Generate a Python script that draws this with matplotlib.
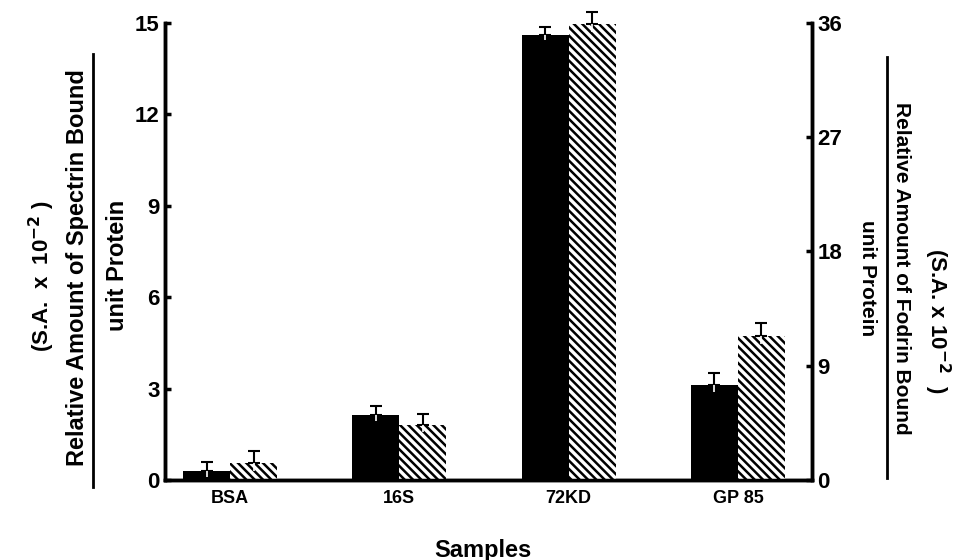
import numpy as np
import matplotlib
matplotlib.use('Agg')
import matplotlib.pyplot as plt
from matplotlib.lines import Line2D

plt.rcParams['font.family'] = ['Liberation Sans', 'DejaVu Sans']
plt.rcParams['font.weight'] = 'bold'
plt.rcParams['mathtext.default'] = 'bf'
plt.rcParams['hatch.linewidth'] = 1.8

# Daten
samples = ['BSA', '16S', '72KD', 'GP 85']
spectrin = [0.28, 2.13, 14.6, 3.12]        # linke Achse
spectrin_err = [0.32, 0.31, 0.28, 0.38]
fodrin = [1.32, 4.33, 35.9, 11.34]         # rechte Achse
fodrin_err = [0.96, 0.88, 0.95, 1.0]
left_ticks = [0, 3, 6, 9, 12, 15]
right_ticks = [0, 9, 18, 27, 36]

x = np.arange(len(samples))
w = 0.278

fig = plt.figure(figsize=(9.6, 5.6), dpi=100)
ax = fig.add_axes([0.1719, 0.1429, 0.674, 0.816])
ax2 = ax.twinx()

ax.bar(x - w / 2, spectrin, w, color='black', linewidth=0)
ax2.bar(x + w / 2, fodrin, w, color='white', edgecolor='black',
        linewidth=0, hatch='\\\\\\\\')

# Fehlerbalken: nach oben schwarz mit Kappe, nach unten weiss im Balken
ax.errorbar(x - w / 2, spectrin, yerr=[np.zeros(4), spectrin_err],
            fmt='none', ecolor='black', elinewidth=1.5, capsize=4,
            capthick=1.5, clip_on=False)
ax.vlines(x - w / 2, np.array(spectrin) - np.array(spectrin_err) * 0.6,
          spectrin, color='white', lw=1.2)
ax2.errorbar(x + w / 2, fodrin, yerr=[np.zeros(4), fodrin_err],
             fmt='none', ecolor='black', elinewidth=1.5, capsize=4,
             capthick=1.5, clip_on=False)
ax2.vlines(x + w / 2, np.array(fodrin) - np.array(fodrin_err) * 0.6,
           fodrin, color='white', lw=1.2)

ax.set_xlim(-0.384, 3.438)
ax.set_ylim(0, 15)
ax2.set_ylim(0, 36)
ax.set_xticks(x)
ax.set_xticklabels(samples, fontsize=13, fontweight='bold')
ax.tick_params(axis='x', length=0, pad=7)
ax.set_yticks(left_ticks)
ax.tick_params(axis='y', direction='in', length=4, width=2.5,
               labelsize=16, pad=4)
ax2.set_yticks(right_ticks)
ax2.tick_params(axis='y', direction='in', length=4, width=2.5,
                labelsize=16, pad=4)

for a in (ax, ax2):
    a.spines['top'].set_visible(False)
    for s in ('left', 'right', 'bottom'):
        a.spines[s].set_linewidth(2.5)

# Achsenbeschriftungen als Bruch
fig.text(42 / 960, 1 - 276 / 560, r'(S.A.  x  10$^{-2}$ )', rotation=90,
         ha='center', va='center', fontsize=16)
fig.text(78 / 960, 1 - 268 / 560, 'Relative Amount of Spectrin Bound',
         rotation=90, ha='center', va='center', fontsize=17)
fig.add_artist(Line2D([93 / 960, 93 / 960], [1 - 54 / 560, 1 - 487 / 560],
                      transform=fig.transFigure, color='black', lw=2))
fig.text(117 / 960, 1 - 265 / 560, 'unit Protein', rotation=90,
         ha='center', va='center', fontsize=17)

fig.text(868 / 960, 1 - 278 / 560, 'unit Protein', rotation=270,
         ha='center', va='center', fontsize=15)
fig.add_artist(Line2D([887 / 960, 887 / 960], [1 - 57 / 560, 1 - 478 / 560],
                      transform=fig.transFigure, color='black', lw=2))
fig.text(902 / 960, 1 - 268 / 560, 'Relative Amount of Fodrin Bound',
         rotation=270, ha='center', va='center', fontsize=15)
fig.text(937 / 960, 1 - 321 / 560, r'(S.A. x 10$^{-2}$  )', rotation=270,
         ha='center', va='center', fontsize=16)

fig.text(483 / 960, 1 - 550 / 560, 'Samples', ha='center', va='center',
         fontsize=17)

fig.savefig('out.png', dpi=100)
